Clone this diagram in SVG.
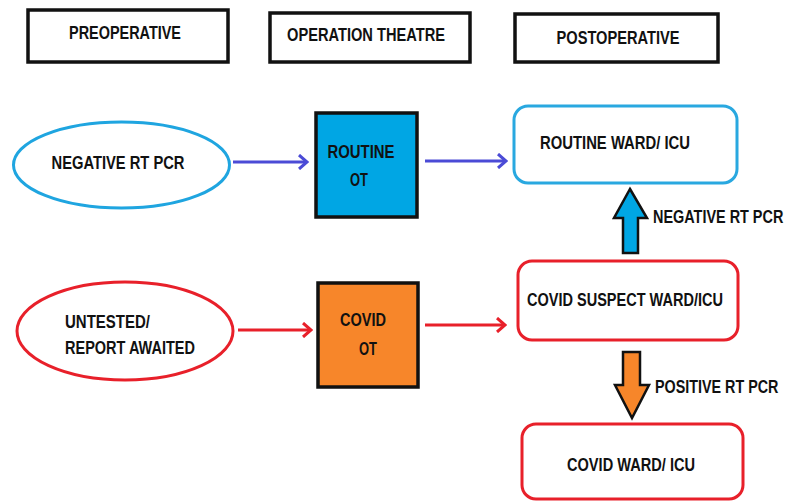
<svg xmlns="http://www.w3.org/2000/svg" width="790" height="501" viewBox="0 0 790 501">
<style>
.t{font-family:"Liberation Sans",Arial,sans-serif;font-weight:bold;font-size:18.5px;fill:#111;}
.hdr{fill:#fff;stroke:#111;stroke-width:3.5;}
.blue{stroke:#4b4bd6;stroke-width:3;fill:none;}
.red{stroke:#e8202a;stroke-width:3;fill:none;}
</style>
<defs>
<marker id="ab" markerWidth="12" markerHeight="16" refX="10" refY="8" orient="auto" markerUnits="userSpaceOnUse"><path d="M2,1 L10,8 L2,15" fill="none" stroke="#4b4bd6" stroke-width="3"/></marker>
<marker id="ar" markerWidth="12" markerHeight="16" refX="10" refY="8" orient="auto" markerUnits="userSpaceOnUse"><path d="M2,1 L10,8 L2,15" fill="none" stroke="#e8202a" stroke-width="3"/></marker>
</defs>
<rect width="790" height="501" fill="#fff"/>
<g id="h1"><rect class="hdr" x="28" y="10" width="200" height="52"/><text class="t" x="125" y="39" text-anchor="middle" textLength="112" lengthAdjust="spacingAndGlyphs">PREOPERATIVE</text></g>
<g id="h2"><rect class="hdr" x="270" y="13" width="200" height="49"/><text class="t" x="366" y="41" text-anchor="middle" textLength="158" lengthAdjust="spacingAndGlyphs">OPERATION THEATRE</text></g>
<g id="h3"><rect class="hdr" x="515" y="14" width="203" height="48"/><text class="t" x="618" y="44" text-anchor="middle" textLength="123" lengthAdjust="spacingAndGlyphs">POSTOPERATIVE</text></g>

<g id="neg"><ellipse cx="121.5" cy="165" rx="108" ry="43" fill="#fff" stroke="#1fa5e0" stroke-width="3"/><text class="t" x="118" y="169" text-anchor="middle" textLength="133" lengthAdjust="spacingAndGlyphs">NEGATIVE RT PCR</text></g>
<g id="untested"><ellipse cx="125" cy="331" rx="108" ry="49" fill="#fff" stroke="#e8202a" stroke-width="3"/><text class="t" x="65" y="328" textLength="85" lengthAdjust="spacingAndGlyphs">UNTESTED/</text><text class="t" x="65" y="354" textLength="130" lengthAdjust="spacingAndGlyphs">REPORT AWAITED</text></g>

<g id="routineot"><rect x="316" y="113" width="101" height="104" fill="#00a6e4" stroke="#111" stroke-width="3.5"/><text class="t" x="361" y="158" text-anchor="middle" textLength="67" lengthAdjust="spacingAndGlyphs">ROUTINE</text><text class="t" x="359" y="186" text-anchor="middle" textLength="18" lengthAdjust="spacingAndGlyphs">OT</text></g>
<g id="covidot"><rect x="318" y="283" width="100" height="104" fill="#f7862a" stroke="#111" stroke-width="3.5"/><text class="t" x="363" y="326" text-anchor="middle" textLength="46" lengthAdjust="spacingAndGlyphs">COVID</text><text class="t" x="368" y="355" text-anchor="middle" textLength="18" lengthAdjust="spacingAndGlyphs">OT</text></g>

<g id="routineward"><rect x="514" y="106" width="223" height="77" rx="14" fill="#fff" stroke="#29a8e0" stroke-width="3"/><text class="t" x="615" y="149" text-anchor="middle" textLength="150" lengthAdjust="spacingAndGlyphs">ROUTINE WARD/ ICU</text></g>
<g id="suspectward"><rect x="518" y="261" width="220" height="79" rx="14" fill="#fff" stroke="#e8202a" stroke-width="3"/><text class="t" x="625" y="306" text-anchor="middle" textLength="196" lengthAdjust="spacingAndGlyphs">COVID SUSPECT WARD/ICU</text></g>
<g id="covidward"><rect x="522" y="424" width="221" height="75" rx="14" fill="#fff" stroke="#e8202a" stroke-width="3"/><text class="t" x="631" y="471" text-anchor="middle" textLength="128" lengthAdjust="spacingAndGlyphs">COVID WARD/ ICU</text></g>

<g id="connectors">
<line class="blue" x1="233" y1="162" x2="307" y2="162" marker-end="url(#ab)"/>
<line class="blue" x1="425" y1="161" x2="506" y2="161" marker-end="url(#ab)"/>
<line class="red" x1="238" y1="330" x2="311" y2="330" marker-end="url(#ar)"/>
<line class="red" x1="425" y1="325" x2="505" y2="325" marker-end="url(#ar)"/>
<path d="M630,189 L647,218 L638,218 L638,253 L623,253 L623,218 L614,218 Z" fill="#00a6e4" stroke="#111" stroke-width="2.5" stroke-linejoin="miter"/>
<path d="M623,352 L640,352 L640,385 L649,385 L632,418 L615,385 L623,385 Z" fill="#f7862a" stroke="#111" stroke-width="2.5"/>
<text class="t" transform="translate(653,223) scale(0.78,1)" x="0" y="0">NEGATIVE RT PCR</text>
<text class="t" transform="translate(655,393) scale(0.775,1)" x="0" y="0">POSITIVE RT PCR</text>
</g>
</svg>
